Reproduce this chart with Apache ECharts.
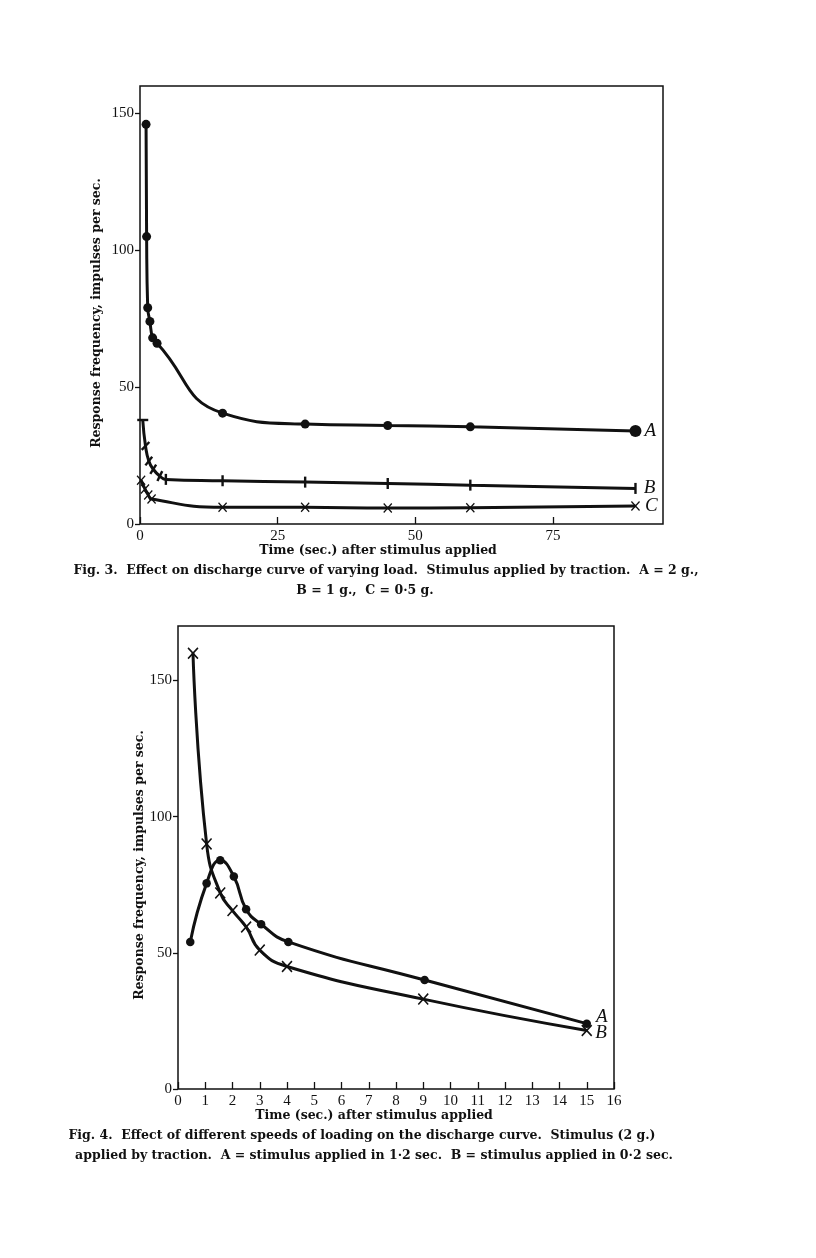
<!DOCTYPE html>
<html>
<head>
<meta charset="utf-8">
<script src="https://cdn.jsdelivr.net/npm/echarts@6/dist/echarts.min.js"></script>
<style>
html, body { margin: 0; padding: 0; background: #fff; }
#main { width: 816px; height: 1258px; }
</style>
</head>
<body>
<div id="main"></div>
<script>
// Fig. 3: discharge under varying load (time in sec, impulses per sec)
var fig3A_t = [1.1, 1.2, 1.4, 1.8, 2.3, 3.1, 15, 30, 45, 60, 90];
var fig3A_v = [146, 105, 79, 74, 68, 66, 40.5, 36.5, 36, 35.5, 34];
var fig3B_t = [0.5, 1.0, 1.6, 2.4, 3.6, 4.7, 15, 30, 45, 60, 90];
var fig3B_v = [38, 28.5, 23, 20, 17.5, 16.3, 15.8, 15.3, 14.8, 14.2, 13];
var fig3C_t = [0.2, 0.9, 1.5, 2.1, 15, 30, 45, 60, 90];
var fig3C_v = [16, 12.8, 10.6, 9.1, 6.1, 6.1, 5.8, 5.9, 6.6];
var fig3XTicks = [0, 25, 50, 75];
var fig3YTicks = [0, 50, 100, 150];

// Fig. 4: different speeds of loading
var fig4A_t = [0.45, 1.05, 1.55, 2.05, 2.5, 3.05, 4.05, 9.05, 15];
var fig4A_v = [54, 75.5, 84, 78, 66, 60.5, 54, 40, 24];
var fig4B_t = [0.55, 1.05, 1.55, 2.0, 2.5, 3.0, 4.0, 9.0, 15];
var fig4B_v = [160, 90, 72, 65.5, 59.5, 51, 45, 33, 21.5];
var fig4XTicks = [0, 1, 2, 3, 4, 5, 6, 7, 8, 9, 10, 11, 12, 13, 14, 15, 16];
var fig4YTicks = [0, 50, 100, 150];

var ink = '#111';
var textFont = '"DejaVu Serif", serif';
var numFont = '"Liberation Serif", serif';
var cross = 'path://M0,1L1,0L5,4L9,0L10,1L6,5L10,9L9,10L5,6L1,10L0,9L4,5Z';

function pts(xs, ys) {
    return xs.map(function (x, i) { return [x, ys[i]]; });
}

function endLabel(text, n, dist, offset) {
    return {
        show: true, position: 'right', distance: dist, offset: offset,
        fontFamily: numFont, fontStyle: 'italic', fontSize: 19, color: ink,
        formatter: function (p) { return p.dataIndex === n - 1 ? text : ''; }
    };
}

function curve(name, grid, data, extra) {
    var s = {
        name: name, type: 'line', xAxisIndex: grid, yAxisIndex: grid,
        data: data, smooth: 0.5,
        lineStyle: { color: ink, width: 3 },
        itemStyle: { color: ink },
        emphasis: { disabled: true },
        z: 3
    };
    for (var k in extra) s[k] = extra[k];
    return s;
}

// little bars across B (fig 3) lie across the curve
var bData = pts(fig3B_t, fig3B_v).map(function (p, i) {
    var r = i === 0 ? 90 : (i < 5 ? -50 + i * 6 : 0);
    return { value: p, symbolRotate: r };
});

function xAxis(grid, max, ticks) {
    return {
        gridIndex: grid, type: 'value', min: 0, max: max,
        axisLine: { show: false },
        axisTick: { inside: true, length: 7, customValues: ticks, lineStyle: { color: ink, width: 1.3 } },
        axisLabel: { customValues: ticks, margin: 5, fontFamily: numFont, fontSize: 15, color: ink },
        splitLine: { show: false }
    };
}
function yAxis(grid, max, ticks) {
    return {
        gridIndex: grid, type: 'value', min: 0, max: max,
        axisLine: { show: false },
        axisTick: { inside: false, length: 5, customValues: ticks, lineStyle: { color: ink, width: 1.3 } },
        axisLabel: { customValues: ticks, margin: 6, fontFamily: numFont, fontSize: 15, color: ink },
        splitLine: { show: false }
    };
}

function txt(x, y, s, rot) {
    return {
        type: 'text', x: x, y: y, rotation: rot || 0,
        style: { text: s, font: 'bold 12.5px ' + textFont, fill: ink, textAlign: 'center', textVerticalAlign: 'middle' }
    };
}

var chart = echarts.init(document.getElementById('main'));
chart.setOption({
    animation: false,
    backgroundColor: '#fff',
    grid: [
        { left: 140, top: 86, width: 523, height: 438, show: true, borderColor: ink, borderWidth: 1.5 },
        { left: 178, top: 626, width: 436, height: 463, show: true, borderColor: ink, borderWidth: 1.5 }
    ],
    xAxis: [xAxis(0, 95, fig3XTicks), xAxis(1, 16, fig4XTicks)],
    yAxis: [yAxis(0, 160, fig3YTicks), yAxis(1, 170, fig4YTicks)],
    series: [
        curve('A', 0, pts(fig3A_t, fig3A_v), {
            symbol: 'circle',
            symbolSize: function (v, p) { return p.dataIndex === fig3A_t.length - 1 ? 12 : 9; },
            label: endLabel('A', fig3A_t.length, 3, [0, 0])
        }),
        curve('B', 0, bData, {
            symbol: 'rect', symbolSize: [2.4, 11],
            label: endLabel('B', fig3B_t.length, 7, [0, 0])
        }),
        curve('C', 0, pts(fig3C_t, fig3C_v), {
            symbol: cross, symbolSize: [9, 10],
            label: endLabel('C', fig3C_t.length, 5, [0, 0])
        }),
        curve('A', 1, pts(fig4A_t, fig4A_v), {
            symbol: 'circle', symbolSize: 8.5,
            label: endLabel('A', fig4A_t.length, 5, [0, -7])
        }),
        curve('B', 1, pts(fig4B_t, fig4B_v), {
            symbol: cross, symbolSize: [11, 12],
            label: endLabel('B', fig4B_t.length, 3, [0, 3])
        })
    ],
    graphic: [
        txt(97, 313, 'Response frequency, impulses per sec.', Math.PI / 2),
        txt(378, 551, 'Time (sec.) after stimulus applied'),
        txt(386, 571, 'Fig. 3.  Effect on discharge curve of varying load.  Stimulus applied by traction.  A = 2 g.,'),
        txt(365, 591, 'B = 1 g.,  C = 0·5 g.'),
        txt(140, 865, 'Response frequency, impulses per sec.', Math.PI / 2),
        txt(374, 1116, 'Time (sec.) after stimulus applied'),
        txt(362, 1136, 'Fig. 4.  Effect of different speeds of loading on the discharge curve.  Stimulus (2 g.)'),
        txt(374, 1156, 'applied by traction.  A = stimulus applied in 1·2 sec.  B = stimulus applied in 0·2 sec.')
    ]
});
</script>
</body>
</html>
